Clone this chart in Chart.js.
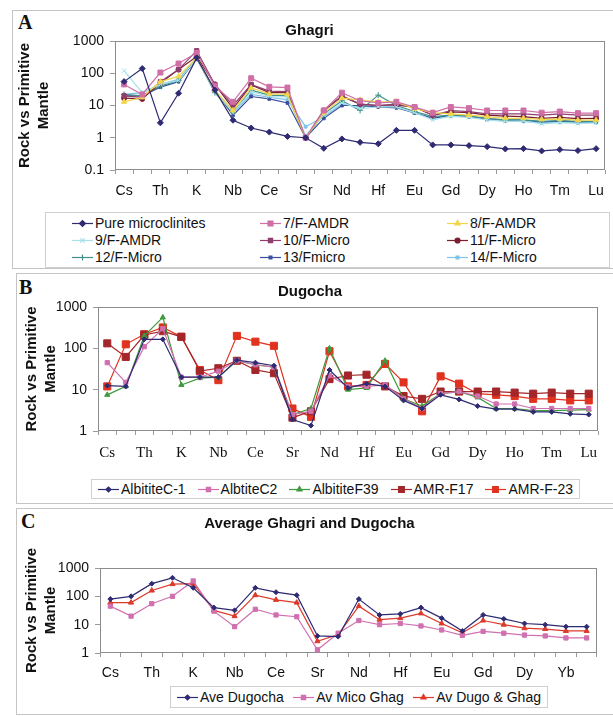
<!DOCTYPE html>
<html>
<head>
<meta charset="utf-8">
<script src="https://cdn.jsdelivr.net/npm/chart.js"></script>
<style>
  body { margin: 0; width: 613px; height: 716px; overflow: hidden; background: #fff; position: relative;
         font-family: 'Liberation Sans', Arial, sans-serif; }
  .frame { position: absolute; border: 1px solid #c4c4c4; box-sizing: border-box; }
  .letter { position: absolute; font: bold 20px 'Liberation Serif', 'Times New Roman', serif; color: #111; line-height: 20px; }
  canvas.chart { position: absolute; }
  .legend { position: absolute; border: 1px solid #cfcfcf; box-sizing: border-box; }
  .row { display: flex; align-items: center; justify-content: space-between; padding: 0 6px; height: 100%; }
  .item { display: flex; align-items: center; font-size: 14px; color: #111; white-space: nowrap; height: 16px; }
  .abs { position: absolute; }
  .item canvas { margin-right: 2px; }
</style>
</head>
<body>
<div class="frame" style="left:12px;top:10px;width:606px;height:259px"></div>
<div class="frame" style="left:16px;top:273px;width:602px;height:231px"></div>
<div class="frame" style="left:16px;top:508px;width:602px;height:207px"></div>
<div class="letter" style="left:18px;top:12px">A</div>
<div class="letter" style="left:19px;top:277px">B</div>
<div class="letter" style="left:21px;top:511px">C</div>

<canvas class="chart" id="chartA" width="601" height="200" style="left:12px;top:10px"></canvas>
<canvas class="chart" id="chartB" width="597" height="195" style="left:16px;top:273px"></canvas>
<canvas class="chart" id="chartC" width="597" height="178" style="left:16px;top:508px"></canvas>

<div class="legend" style="left:45px;top:212px;width:565px;height:56px"></div>
<div class="legend" style="left:91px;top:479px;width:489px;height:20px"><div class="row" id="legendB"></div></div>
<div class="legend" style="left:170px;top:686px;width:378px;height:22px"><div class="row" id="legendC"></div></div>
<div id="legendA"></div>

<script>
"use strict";

// x labels (every other element is labelled in the picture)
const labelsA = ["Cs", "", "Th", "", "K", "", "Nb", "", "Ce", "", "Sr", "", "Nd", "", "Hf", "", "Eu", "", "Gd", "", "Dy", "", "Ho", "", "Tm", "", "Lu"];
const labelsB = labelsA.slice();
const labelsC = ["Cs", "", "Th", "", "K", "", "Nb", "", "Ce", "", "Sr", "", "Nd", "", "Hf", "", "Eu", "", "Gd", "", "Dy", "", "Yb", ""];

const yTicksA = [0.1, 1, 10, 100, 1000];
const yTicksB = [1, 10, 100, 1000];
const yTicksC = [1, 10, 100, 1000];

// A - Ghagri
const pureMicro = [55, 140, 2.9, 24, 300, 30, 3.5, 2.0, 1.5, 1.1, 1.0, 0.47, 0.92, 0.72, 0.65, 1.7, 1.7, 0.6, 0.6, 0.57, 0.53, 0.45, 0.46, 0.39, 0.43, 0.40, 0.46];
const f7amdr = [45, 22, 105, 200, 430, 40, 13, 70, 38, 36, 1.0, 7, 25, 14, 12, 13, 9, 6, 9, 8.3, 7, 7, 7, 6, 6.5, 5.8, 5.8];
const f8amdr = [13, 18, 55, 80, 300, 30, 7, 35, 23, 22, 1.0, 6, 17, 15, 13, 13, 8, 6, 5.5, 5, 4.5, 4, 4, 3.7, 3.8, 3.5, 3.5];
const f9amdr = [120, 25, 45, 60, 280, 28, 6, 27, 19, 18, 1.2, 5, 12, 8, 9, 9, 6, 3.6, 4.6, 4.3, 3.6, 3.2, 3.3, 2.7, 3, 2.8, 2.9];
const f10micro = [20, 18, 55, 130, 500, 45, 10, 45, 28, 27, 1.0, 7, 20, 11, 10, 11, 9, 5, 7, 6.5, 5.5, 5.5, 5.5, 5, 5.5, 5, 5];
const f11micro = [17, 16, 50, 130, 330, 45, 8, 43, 25, 25, 1.0, 7, 19, 11, 10, 10.5, 8.8, 5, 6.3, 6, 5, 4.7, 4.5, 4, 4.3, 3.9, 4];
const f12micro = [22, 20, 40, 60, 290, 25, 6, 30, 21, 20, 1.0, 5.5, 14, 7, 21, 10, 6.5, 4.5, 5, 4.8, 4, 3.6, 3.6, 3.2, 3.4, 3.2, 3.2];
const f13micro = [20, 20, 37, 55, 280, 30, 5, 19, 16, 12, 1.0, 4, 10, 10, 9, 8.5, 5.9, 4, 5, 4.5, 3.8, 3.5, 3.5, 3.1, 3.3, 3.1, 3.1];
const f14micro = [22, 25, 45, 65, 300, 30, 6, 22, 18, 15, 2.2, 4.5, 11, 9, 10, 9, 6, 4.2, 4.8, 4.4, 3.7, 3.3, 3.2, 2.9, 3, 2.9, 3];

// B - Dugocha
const albititeC1 = [12.5, 12, 165, 165, 20, 20, 20, 52, 45, 38, 1.9, 1.35, 30, 11, 14, 12, 5.5, 3.5, 7.5, 5.8, 4.0, 3.4, 3.4, 2.9, 2.9, 2.6, 2.5];
const albtiteC2 = [45, 15, 110, 300, 20, 20, 28, 50, 40, 35, 2.5, 3, 22, 12, 12, 13, 6, 3.5, 8, 9, 7, 4.5, 4.5, 3.5, 3.5, 3.5, 3.5];
const albititeF39 = [7.5, 12, 200, 560, 13, 19, 20, 50, 40, 35, 2.5, 3.5, 100, 10, 11, 50, 6, 4, 8, 9, 6.5, 3.5, 3.5, 3.1, 3.1, 3.2, 3.3];
const amrF17 = [132, 62, 210, 260, 190, 28, 33, 50, 30, 25, 2.1, 3, 18, 22, 23, 12, 7, 6, 9, 9, 9, 9, 8.5, 8, 8.5, 8, 8];
const amrF23 = [12, 125, 220, 320, 190, 30, 17, 200, 145, 115, 3.5, 2.2, 85, 12, 13, 42, 15, 3, 21, 14, 8, 7.5, 7, 6, 6, 5.5, 5.5];

// C - averages
const aveDugocha = [80, 100, 280, 450, 200, 40, 32, 200, 140, 110, 4, 3.8, 80, 22, 24, 40, 17, 6, 22, 16, 11, 10, 8.5, 8.5];
const avMicoGhag = [45, 20, 55, 100, 350, 30, 8.5, 35, 22, 19, 1.3, 5, 14, 10, 11, 9, 6.5, 4.2, 5.8, 5, 4.3, 4, 3.4, 3.4];
const avDugoGhag = [60, 60, 160, 270, 280, 32, 20, 110, 75, 60, 2.6, 4.5, 45, 15, 17, 25, 11, 5.2, 14, 10, 7.5, 7, 6, 6];

const SANS = "'Liberation Sans', Arial, sans-serif";
const SERIF = "'Liberation Serif', 'Times New Roman', serif";

function ds(label, data, color, style, radius) {
  return {
    label: label,
    data: data,
    borderColor: color,
    backgroundColor: color,
    pointStyle: style,
    pointRadius: radius,
    pointBorderWidth: 1,
    pointHoverRadius: radius,
    borderWidth: 1.2,
    tension: 0,
    fill: false
  };
}

const setA = [
  ds("Pure microclinites", pureMicro, "#2e2b72", "rectRot", 3),
  ds("7/F-AMDR", f7amdr, "#cf6fa6", "rect", 3.5),
  ds("8/F-AMDR", f8amdr, "#f1d64c", "triangle", 3),
  ds("9/F-AMDR", f9amdr, "#a6e2ea", "crossRot", 3),
  ds("10/F-Micro", f10micro, "#8e3f6e", "rect", 3),
  ds("11/F-Micro", f11micro, "#7b1d2e", "circle", 2.5),
  ds("12/F-Micro", f12micro, "#3f8f8a", "cross", 3),
  ds("13/Fmicro", f13micro, "#3c4f9c", "rect", 2),
  ds("14/F-Micro", f14micro, "#7fc3e6", "rect", 2)
];
const setB = [
  ds("AlbititeC-1", albititeC1, "#2e2b72", "rectRot", 2.5),
  ds("AlbtiteC2", albtiteC2, "#d070b0", "rect", 3),
  ds("AlbititeF39", albititeF39, "#3e9a3e", "triangle", 3),
  ds("AMR-F17", amrF17, "#a3262a", "rect", 5),
  ds("AMR-F-23", amrF23, "#e0321e", "rect", 5)
];
const setC = [
  ds("Ave Dugocha", aveDugocha, "#2e2b72", "rectRot", 2.5),
  ds("Av Mico Ghag", avMicoGhag, "#d070b0", "rect", 3),
  ds("Av Dugo & Ghag", avDugoGhag, "#dc3a2a", "triangle", 3)
];

const plotBox = {
  id: "plotBox",
  beforeDatasetsDraw(chart) {
    const a = chart.chartArea;
    const ctx = chart.ctx;
    ctx.save();
    ctx.strokeStyle = "#8c8c8c";
    ctx.lineWidth = 1;
    ctx.strokeRect(Math.round(a.left) + 0.5, Math.round(a.top) + 0.5, Math.round(a.right - a.left) - 1, Math.round(a.bottom - a.top) - 1);
    ctx.restore();
  }
};

function makeChart(id, labels, datasets, yTicks, p) {
  return new Chart(document.getElementById(id), {
    type: "line",
    data: { labels: labels, datasets: datasets },
    plugins: [plotBox],
    options: {
      responsive: false,
      animation: false,
      devicePixelRatio: 1,
      layout: { padding: { left: p.padLeft, right: p.padRight, top: 0, bottom: 0 } },
      plugins: {
        legend: { display: false },
        tooltip: { enabled: false },
        title: {
          display: true,
          text: p.title,
          color: "#111",
          font: { family: SANS, size: 15, weight: "bold", lineHeight: 1.2 },
          padding: { top: p.titleTop, bottom: p.titleBottom }
        }
      },
      scales: {
        x: {
          type: "category",
          offset: true,
          border: { display: false },
          grid: { offset: true, drawOnChartArea: false, drawTicks: true, tickLength: 4, color: "#9a9a9a" },
          ticks: { autoSkip: false, maxRotation: 0, minRotation: 0, padding: p.xPad, color: "#111",
                   font: { family: p.xFont, size: p.xSize } },
          afterFit: s => { s.height = p.xHeight; }
        },
        y: {
          type: "logarithmic",
          min: yTicks[0],
          max: yTicks[yTicks.length - 1],
          border: { display: false },
          grid: { drawOnChartArea: false, drawTicks: true, tickLength: 5, color: "#9a9a9a" },
          ticks: { padding: 6, color: "#111", font: { family: SANS, size: 14 }, callback: v => String(v) },
          afterBuildTicks: s => { s.ticks = yTicks.map(v => ({ value: v })); },
          title: {
            display: true,
            text: ["Rock vs Primitive", "Mantle"],
            color: "#111",
            font: { family: SANS, size: 15, weight: "bold", lineHeight: 1.3 },
            padding: { top: p.yTitleTop, bottom: 0 }
          },
          afterFit: s => { s.width = p.yWidth; }
        }
      }
    }
  });
}

makeChart("chartA", labelsA, setA, yTicksA, {
  title: "Ghagri", padLeft: 0, padRight: 6, titleTop: 12, titleBottom: 1,
  xPad: 9, xHeight: 40, xFont: SANS, xSize: 14, yWidth: 103, yTitleTop: 3
});
makeChart("chartB", labelsB, setB, yTicksB, {
  title: "Dugocha", padLeft: 6, padRight: 15, titleTop: 10, titleBottom: 6,
  xPad: 9, xHeight: 37, xFont: SERIF, xSize: 15, yWidth: 76, yTitleTop: 0
});
makeChart("chartC", labelsC, setC, yTicksC, {
  title: "Average Ghagri and Dugocha", padLeft: 6, padRight: 16, titleTop: 7, titleBottom: 35,
  xPad: 8, xHeight: 33, xFont: SANS, xSize: 14, yWidth: 78, yTitleTop: 0
});

// legends drawn as html, markers painted with Chart.js point helper
function swatch(d) {
  const c = document.createElement("canvas");
  c.width = 21;
  c.height = 12;
  const ctx = c.getContext("2d");
  ctx.strokeStyle = d.borderColor;
  ctx.fillStyle = d.backgroundColor;
  ctx.lineWidth = 1.2;
  ctx.beginPath();
  ctx.moveTo(0, 6.5);
  ctx.lineTo(21, 6.5);
  ctx.stroke();
  if (Chart.helpers && Chart.helpers.drawPoint) {
    Chart.helpers.drawPoint(ctx, { pointStyle: d.pointStyle, radius: Math.min(d.pointRadius, 4), rotation: 0, borderWidth: 1 }, 10.5, 6.5);
  } else {
    ctx.fillRect(8, 4, 5, 5);
  }
  return c;
}

function legendItem(d) {
  const el = document.createElement("div");
  el.className = "item";
  el.appendChild(swatch(d));
  el.appendChild(document.createTextNode(d.label));
  return el;
}

const spotsA = [[72, 223], [260, 223], [447, 223], [72, 240], [260, 240], [447, 240], [72, 257], [260, 257], [447, 257]];
setA.forEach((d, i) => {
  const el = legendItem(d);
  el.classList.add("abs");
  el.style.left = spotsA[i][0] + "px";
  el.style.top = (spotsA[i][1] - 8) + "px";
  document.getElementById("legendA").appendChild(el);
});
setB.forEach(d => document.getElementById("legendB").appendChild(legendItem(d)));
setC.forEach(d => document.getElementById("legendC").appendChild(legendItem(d)));
</script>
</body>
</html>
